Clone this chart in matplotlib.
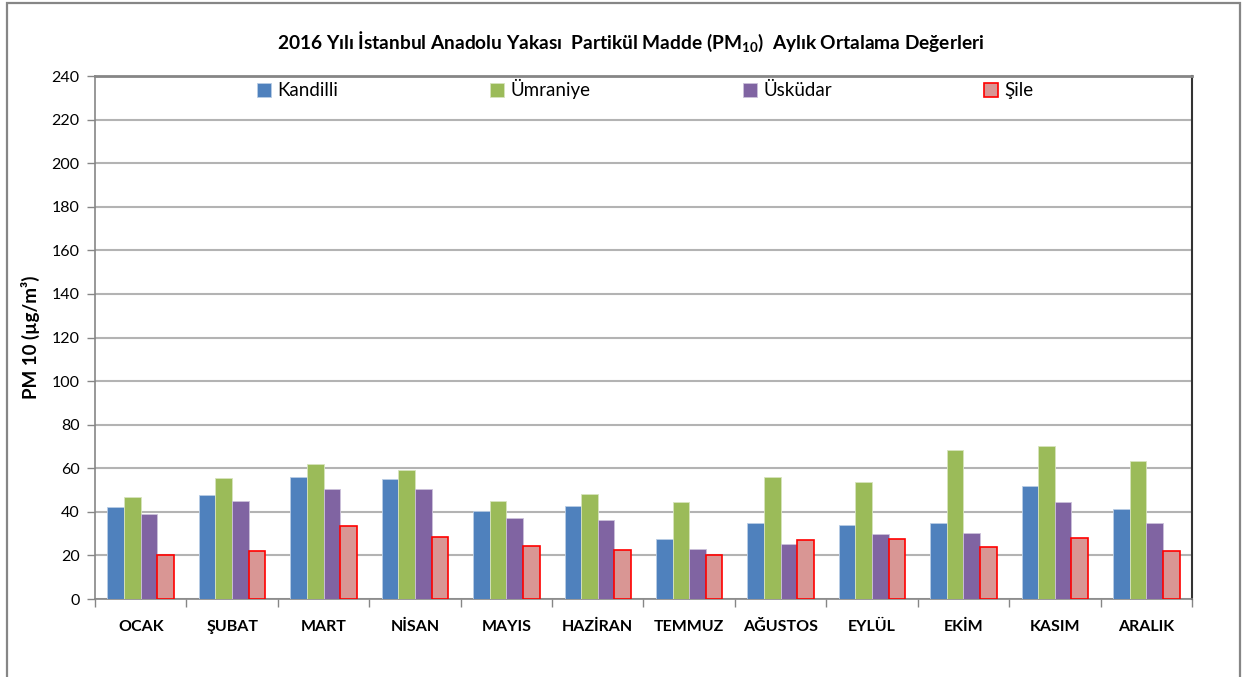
import matplotlib
matplotlib.use("Agg")
import matplotlib.pyplot as plt
import numpy as np
from matplotlib.patches import Rectangle

plt.rcParams['font.family'] = ['Lato', 'DejaVu Sans']
plt.rcParams['mathtext.fontset'] = 'custom'
plt.rcParams['mathtext.rm'] = 'Lato:bold'
plt.rcParams['mathtext.it'] = 'Lato:bold'

months = ['OCAK', 'ŞUBAT', 'MART', 'NİSAN', 'MAYIS', 'HAZİRAN', 'TEMMUZ',
          'AĞUSTOS', 'EYLÜL', 'EKİM', 'KASIM', 'ARALIK']
stations = ['Kandilli', 'Ümraniye', 'Üsküdar', 'Şile']
kandilli = [42.0, 47.8, 55.9, 55.0, 40.6, 42.5, 27.6, 35.1, 33.9, 34.7, 51.8, 41.4]
umraniye = [46.9, 55.4, 61.8, 59.1, 45.2, 48.2, 44.3, 55.9, 53.6, 68.4, 70.2, 63.5]
uskudar = [38.8, 44.9, 50.4, 50.4, 37.4, 36.2, 22.8, 25.3, 29.8, 30.2, 44.7, 34.7]
sile = [20.0, 22.1, 33.3, 28.3, 24.3, 22.4, 20.0, 27.0, 27.5, 24.0, 27.9, 22.0]
yticks = np.arange(0, 241, 20)

face = ['#4F81BD', '#9BBB59', '#8064A2', '#D99694']
edge = ['#B9CDE5', '#D7E4BD', '#CCC1DA', '#FF0000']

fig = plt.figure(figsize=(12.42, 6.77), dpi=100)
ax = fig.add_axes([0.0765, 0.1152, 0.9597 - 0.0765, 0.8877 - 0.1152])

# outer chart border
fig.patches.append(Rectangle((7 / 1242, -0.05), 1233 / 1242, 1.05 - 3 / 677,
                             transform=fig.transFigure, fill=False,
                             edgecolor='#868686', linewidth=1.6))

x = np.arange(len(months))
w = 0.182
for i, (name, vals) in enumerate(zip(stations, [kandilli, umraniye, uskudar, sile])):
    ax.bar(x + (i - 1.5) * w, vals, w, color=face[i], edgecolor=edge[i],
           linewidth=1.2 if i == 3 else 0.6, label=name, zorder=3)

ax.set_xlim(-0.5, len(months) - 0.5)
ax.set_ylim(0, 240)
ax.set_yticks(yticks)
ax.set_xticks(x)
ax.set_xticklabels(months, fontsize=11.5, fontweight='bold')
ax.set_xticks(np.arange(-0.5, len(months)), minor=True)
ax.tick_params(axis='x', which='major', length=0, pad=15)
ax.tick_params(axis='x', which='minor', length=6, color='#868686', width=1)
ax.tick_params(axis='y', length=6, color='#868686', width=1, labelsize=11.5, pad=5)

ax.grid(axis='y', color='#B3B3B3', linewidth=1.5, zorder=0)
ax.set_axisbelow(True)
ax.spines['top'].set_color('#868686')
ax.spines['top'].set_linewidth(2)
ax.spines['right'].set_color('#333333')
ax.spines['right'].set_linewidth(1.5)
ax.spines['left'].set_color('#868686')
ax.spines['bottom'].set_color('#868686')
ax.spines['left'].set_linewidth(1.2)
ax.spines['bottom'].set_linewidth(1.2)

ax.set_ylabel('PM 10 (µg/m³)', fontsize=13.5, fontweight='bold', labelpad=8)

fig.text(0.508, 0.938, r'2016 Yılı İstanbul Anadolu Yakası  Partikül Madde (PM$_{10}$)  Aylık Ortalama Değerleri',
         ha='center', va='center', fontsize=13.8, fontweight='bold')

ax.legend(loc='upper left', bbox_to_anchor=(0.1405, 1.008), ncol=4, frameon=False,
          fontsize=13.5, handlelength=0.75, handleheight=0.75, handletextpad=0.35,
          columnspacing=8.1, borderaxespad=0)

fig.savefig('out.png', dpi=100)
